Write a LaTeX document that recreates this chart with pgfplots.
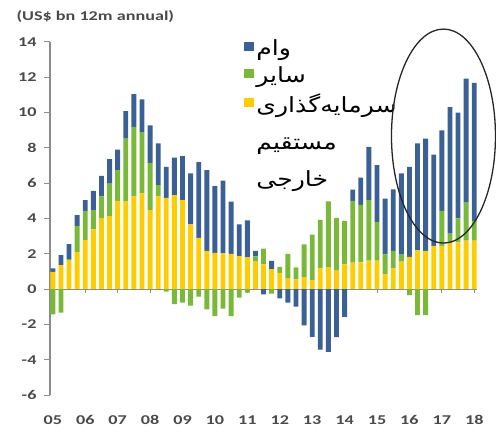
\documentclass[border=0pt]{standalone}
\usepackage{pgfplots}
\pgfplotsset{compat=1.18}
\usepackage{pgfplotstable}
\usepackage{fontspec}
\setmainfont{Carlito}[FakeStretch=1.35]
\newfontfamily\arabicfont[Script=Arabic, FakeStretch=1.2]{DejaVu Sans}
\TeXXeTstate=1
\definecolor{cY}{HTML}{FFCC00}
\definecolor{cG}{HTML}{7AB83A}
\definecolor{cB}{HTML}{3A6096}
\definecolor{txt}{HTML}{4A4A4A}
\definecolor{axl}{HTML}{8C8C8C}

% i: quarter index from 2005 (0) to 2018 (52); Y = FDI, G = other (positive part), B = loans (positive part), gn/bn = negative parts
\pgfplotstableread{
i  Y    G    B    gn    bn
0  0.98 0    0.19 -1.43 0
1  1.36 0    0.56 -1.34 0
2  1.62 0.08 0.85 0     0
3  2.11 1.47 0.61 0     0
4  2.77 1.66 0.61 0     0
5  3.38 1.09 1.10 0     0
6  4.04 1.22 1.16 0     0
7  4.13 1.85 1.38 0     0
8  5.00 1.74 1.16 0     0
9  4.98 3.55 1.55 0     0
10 5.26 3.93 1.85 0     0
11 5.42 3.48 1.85 0     0
12 4.47 2.68 2.13 0     0
13 5.26 0.63 2.36 0     0
14 5.17 0    1.75 -0.15 0
15 5.32 0    2.13 -0.85 0
16 5.04 0    2.49 -0.77 0
17 3.66 0    2.89 -0.94 0
18 2.90 0    4.30 -0.43 0
19 2.17 0    4.57 -1.15 0
20 2.05 0    3.78 -1.53 0
21 2.02 0    4.12 -1.10 0
22 2.00 0    2.95 -1.53 0
23 1.87 0    1.80 -0.49 0
24 1.80 0    2.10 -0.20 0
25 1.55 0.30 0.32 0     0
26 1.40 0.90 0    0     -0.30
27 1.13 0    0.47 -0.25 0
28 0.92 0.34 0    0     -0.52
29 0.60 1.40 0    0     -0.77
30 0.55 0.68 0    0     -1.00
31 0.68 1.85 0    0     -2.05
32 0.51 2.58 0    0     -2.70
33 1.17 2.75 0    0     -3.43
34 1.25 3.72 0    0     -3.55
35 1.05 2.98 0    0     -2.72
36 1.40 2.47 0    0     -1.57
37 1.50 3.50 0.64 0     0
38 1.52 3.25 1.55 0     0
39 1.62 3.42 3.02 0     0
40 1.62 2.19 3.21 0     0
41 0.83 1.14 3.16 0     0
42 1.17 1.00 3.48 0     0
43 1.55 0.40 4.60 0     0
44 1.83 0    5.10 -0.34 0
45 2.20 0    6.05 -1.47 0
46 2.17 0    6.36 -1.47 0
47 2.45 0    5.17 0     0
48 2.45 1.98 4.56 0     0
49 2.60 0.55 7.16 0     0
50 2.65 1.35 6.00 0     0
51 2.75 2.15 7.02 0     0
52 2.74 1.13 7.81 0     0
}\data

\begin{document}
\begin{tikzpicture}
\useasboundingbox (0,0) rectangle (496bp,435bp);
\pgfplotsset{common/.style={
  scale only axis, width=426.7bp, height=353bp,
  at={(50bp,40bp)}, anchor=south west,
  xmin=-0.35, xmax=52.3, ymin=-6, ymax=14,
  ybar stacked, bar width=0.6, clip=false}}
\begin{axis}[common,
  axis lines*=left,
  x axis line style={draw=none},
  y axis line style={axl, line width=1.2pt},
  xtick={0,4,...,52},
  xticklabels={05,06,07,08,09,10,11,12,13,14,15,16,17,18},
  xtick style={draw=none},
  ytick={-6,-4,...,14},
  ytick style={axl, line width=1pt},
  tick align=outside, major tick length=6bp,
  ticklabel style={font=\fontsize{13.5}{15}\selectfont\bfseries, text=txt},
  /pgf/number format/assume math mode=true,
  xticklabel style={yshift=-11bp},
  yticklabel style={xshift=-4bp},
  legend style={at={(0.448,1.02)}, anchor=north west, draw=none, fill=none,
    font=\arabicfont\fontsize{21}{25}\selectfont, row sep=6bp,
    nodes={inner xsep=2bp}},
  legend cell align=left,
  reverse legend,
  legend image code/.code={\fill[#1] (0bp,-3bp) rectangle (10bp,6bp);},
]
\addplot[fill=cY, draw=none] table[x=i, y=Y] {\data};
\addlegendentry{\begin{tabular}[t]{@{}l@{}}\beginR سرمایه^^^^200cگذاری\endR\\[12bp]\beginR مستقیم\endR\\[12bp]\beginR خارجی\endR\end{tabular}}
\addplot[fill=cG, draw=none] table[x=i, y=G] {\data};
\addlegendentry{\beginR سایر\endR}
\addplot[fill=cB, draw=none] table[x=i, y=B] {\data};
\addlegendentry{\beginR وام\endR}
\end{axis}
\begin{axis}[common,
  axis x line=middle, axis y line=none,
  x axis line style={axl, line width=1.2pt, -},
  xtick={0,4,...,52}, xticklabels={},
  xtick style={axl, line width=1pt},
  ytick=\empty,
  tick align=outside, major tick length=4bp]
\addplot[fill=cG, draw=none] table[x=i, y=gn] {\data};
\addplot[fill=cB, draw=none] table[x=i, y=bn] {\data};
\draw[black!85, line width=1.3pt] (axis cs:48.2,8.67) ellipse [x radius=52bp, y radius=107bp];
\end{axis}
\node[anchor=base west, font=\fontsize{13.5}{15}\selectfont\bfseries, text=txt] at (13bp,414bp) {(US\$ bn 12m annual)};
\end{tikzpicture}
\end{document}
